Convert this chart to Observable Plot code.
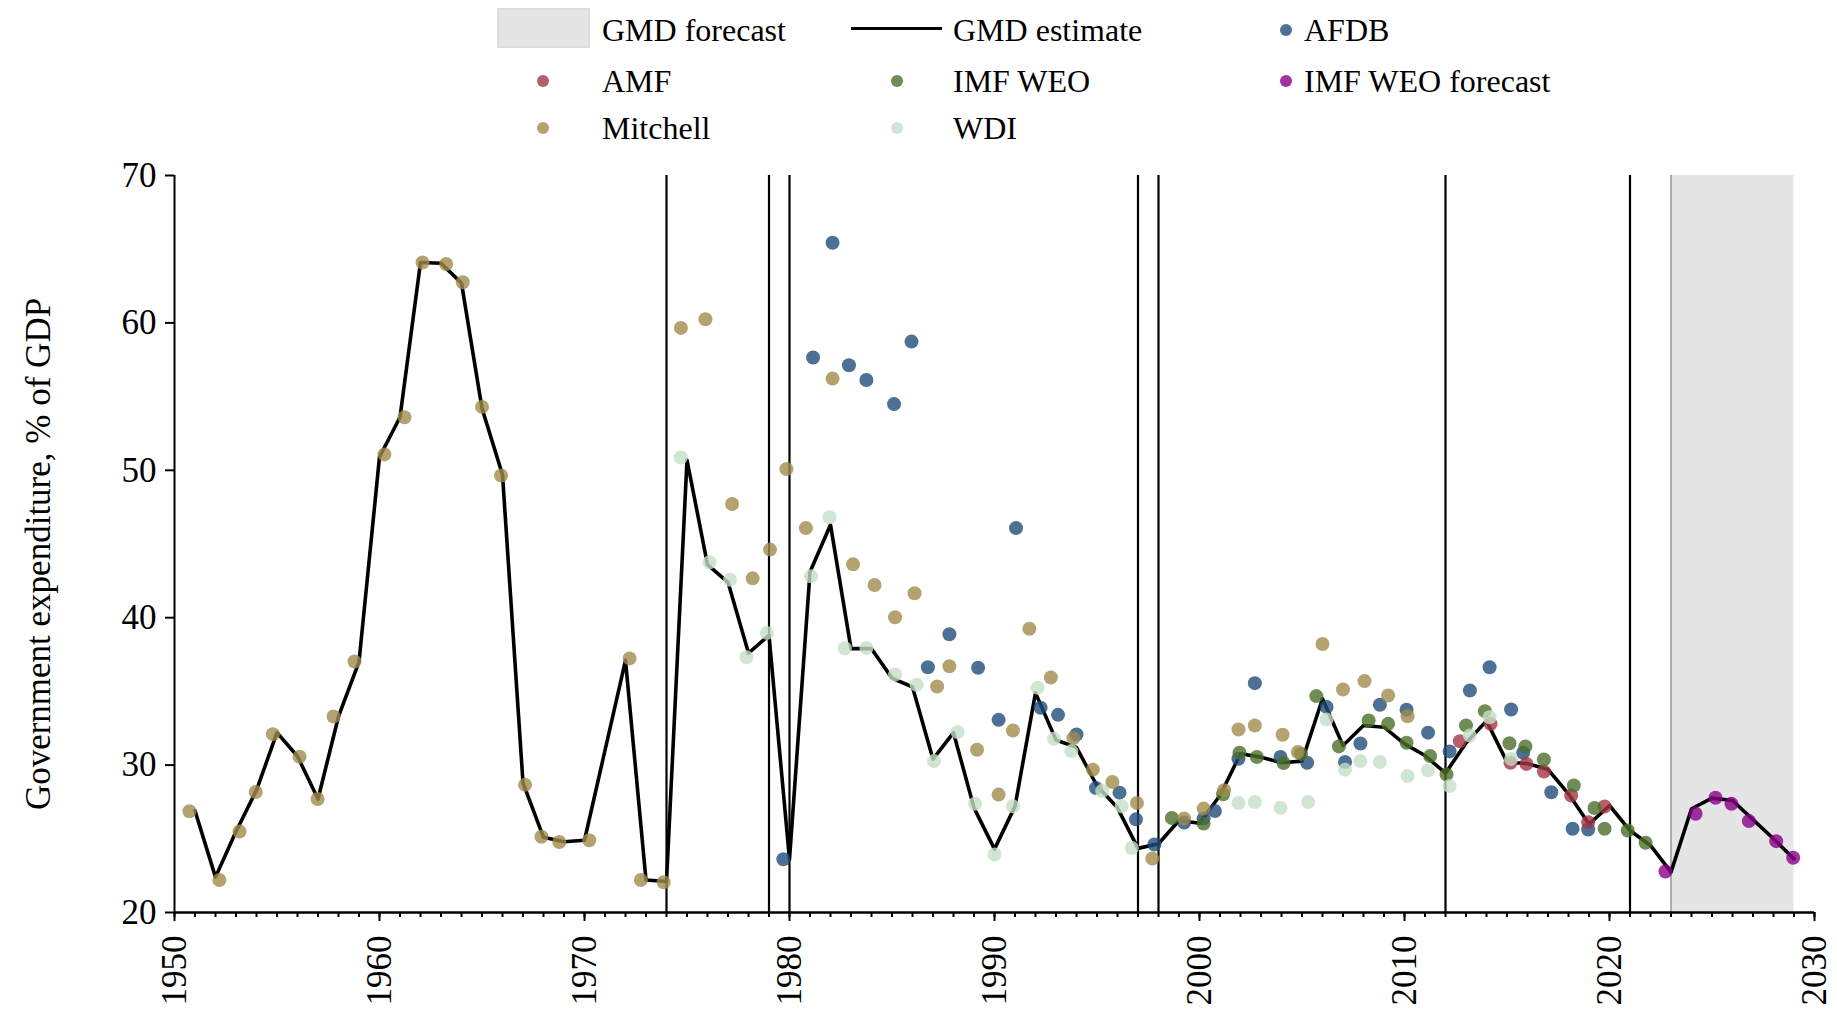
<!DOCTYPE html>
<html>
<head>
<meta charset="utf-8">
<script src="https://cdn.jsdelivr.net/npm/d3@7"></script>
<script src="https://cdn.jsdelivr.net/npm/@observablehq/plot@0.6"></script>
<style>
  body { margin: 0; background: #fff; }
  #wrap { position: relative; width: 1837px; height: 1014px; font-family: "Liberation Serif", "Times New Roman", serif; }
  #legend { position: relative; width: 1837px; height: 150px; }
  .lg-text { position: absolute; font-size: 32px; line-height: 32px; white-space: nowrap; color: #000; }
  .lg-dot { position: absolute; width: 12.6px; height: 12.6px; border-radius: 50%; }
  #chart svg { display: block; }
</style>
</head>
<body>
<div id="wrap">
  <div id="legend"></div>
  <div id="chart"></div>
</div>
<script>
// ---------------- DATA ----------------
const yTitle = "Government expenditure, % of GDP";
const yTicks = [20, 30, 40, 50, 60, 70];
const xTicks = [1950, 1960, 1970, 1980, 1990, 2000, 2010, 2020, 2030];
const breakYears = [1974, 1979, 1980, 1997, 1998, 2012, 2021];
const forecastSpan = [2023, 2029];

const gmdYears = [1951,1952,1953,1954,1955,1956,1957,1958,1959,1960,1961,1962,1963,1964,1965,1966,1967,1968,1969,1970,
  1971,1972,1973,1974,1975,1976,1977,1978,1979,1980,1981,1982,1983,1984,1985,1986,1987,1988,1989,1990,
  1991,1992,1993,1994,1995,1996,1997,1998,1999,2000,2001,2002,2003,2004,2005,2006,2007,2008,2009,2010,
  2011,2012,2013,2014,2015,2016,2017,2018,2019,2020,2021,2022,2023,2024,2025,2026,2027,2028,2029];
const gmdValues = [26.9,22.4,25.5,28.3,32.2,30.6,27.7,33.3,37.0,50.9,53.6,64.1,64.05,62.7,54.2,49.7,28.8,25.1,24.8,24.9,
  31.0,37.1,22.2,22.1,50.7,43.6,42.4,37.6,38.8,23.6,43.1,46.3,37.9,37.9,35.9,35.3,30.4,32.2,27.1,24.3,
  27.2,34.9,31.7,31.2,28.6,27.1,24.35,24.66,26.24,26.06,27.94,30.77,30.54,30.16,30.27,34.5,31.33,32.69,32.57,31.44,
  30.65,29.45,31.5,33.0,30.2,30.1,29.7,28.05,26.0,27.26,25.56,24.55,22.74,27.04,27.76,27.6,26.3,25.0,23.64];

const sources = ["AFDB", "AMF", "IMF WEO", "IMF WEO forecast", "Mitchell", "WDI"];
const sourceColors = ["#1f4e79", "#a13743", "#4c6f2a", "#880088", "#a18c4c", "#c4e0c7"];

const afdbYears = [1979.7,1981.15,1982.1,1982.9,1983.75,1985.1,1985.95,1986.75,1987.8,1989.2,1990.2,1991.05,1992.25,1993.1,1994.0,
  1994.95,1996.1,1996.9,1997.8,1999.25,2000.2,2000.75,2001.9,2002.7,2003.95,2005.25,2006.2,2007.1,2007.85,2008.8,
  2010.1,2011.15,2012.2,2013.19,2014.15,2015.2,2015.79,2017.16,2018.2,2018.96];
const afdbValues = [23.61,57.65,65.44,57.13,56.13,54.49,58.73,36.64,38.88,36.6,33.07,46.08,33.89,33.41,32.08,
  28.44,28.13,26.32,24.61,26.1,26.37,26.89,30.43,35.56,30.55,30.16,33.94,30.21,31.47,34.09,
  33.76,32.2,30.93,35.06,36.64,33.77,30.84,28.16,25.68,25.63];

const amfYears = [2012.7,2014.2,2015.17,2015.95,2016.8,2018.13,2018.96,2019.76];
const amfValues = [31.62,32.8,30.16,30.08,29.57,27.94,26.13,27.19];

const imfYears = [1998.65,2000.2,2001.15,2001.95,2002.8,2004.1,2004.95,2005.7,2006.8,2008.25,2009.2,2010.1,2011.25,2012.05,
  2013.0,2013.92,2015.12,2015.9,2016.8,2018.26,2019.27,2019.76,2020.89,2021.76];
const imfValues = [26.41,26.03,28.02,30.84,30.55,30.14,30.77,34.68,31.27,33.03,32.8,31.52,30.61,29.37,
  32.69,33.66,31.48,31.27,30.38,28.62,27.09,25.68,25.56,24.73];

const imfForecastYears = [2022.73,2024.2,2025.17,2025.95,2026.8,2028.13,2028.96];
const imfForecastValues = [22.78,26.7,27.78,27.37,26.2,24.84,23.71];

const mitchellYears = [1950.73,1952.19,1953.17,1953.96,1954.8,1956.1,1956.98,1957.76,1958.78,1960.24,1961.22,1962.1,1963.25,1964.06,
  1965.0,1965.93,1967.1,1967.9,1968.77,1970.23,1972.2,1972.75,1973.86,1974.7,1975.9,1977.2,1978.2,1979.05,1979.85,1980.8,
  1982.1,1983.1,1984.15,1985.15,1986.1,1987.2,1987.8,1989.15,1990.2,1990.9,1991.7,1992.75,1993.85,1994.8,1995.75,
  1996.95,1997.7,1999.25,2000.2,2001.2,2001.9,2002.7,2004.05,2004.8,2006.0,2007.0,2008.05,2009.2,2010.15];
const mitchellValues = [26.87,22.2,25.5,28.17,32.1,30.57,27.7,33.3,37.03,51.08,53.6,64.1,64.0,62.76,
  54.3,49.65,28.66,25.14,24.78,24.9,37.24,22.2,22.05,59.66,60.25,47.71,42.67,44.62,50.08,46.08,
  56.22,43.62,42.22,40.03,41.66,35.33,36.71,31.04,28.0,32.35,39.25,35.94,31.83,29.69,28.85,
  27.43,23.66,26.37,27.05,28.29,32.42,32.69,32.06,30.89,38.22,35.13,35.7,34.72,33.31];

const wdiYears = [1974.7,1976.1,1977.1,1977.9,1978.9,1981.05,1981.95,1982.7,1983.75,1985.15,1986.2,1987.05,1988.2,1989.05,1990.0,
  1990.9,1992.1,1992.9,1993.75,1995.25,1996.2,1996.7,2001.9,2002.7,2003.95,2005.3,2006.2,2007.1,2007.85,2008.8,
  2010.15,2011.15,2012.2,2013.19,2014.15,2015.2];
const wdiValues = [50.87,43.76,42.58,37.32,38.97,42.81,46.81,37.93,37.95,36.15,35.45,30.28,32.24,27.38,23.93,
  27.2,35.24,31.79,30.95,28.24,27.2,24.38,27.43,27.5,27.11,27.5,33.1,29.69,30.28,30.21,
  29.26,29.64,28.58,32.0,33.25,30.42];

// ---------------- BUILD ----------------
const FONT = '"Liberation Serif", "Times New Roman", serif';
const gmd = gmdYears.map((year, i) => ({year, value: gmdValues[i]}));
const seriesSets = [
  ["AFDB", afdbYears, afdbValues],
  ["AMF", amfYears, amfValues],
  ["IMF WEO", imfYears, imfValues],
  ["IMF WEO forecast", imfForecastYears, imfForecastValues],
  ["Mitchell", mitchellYears, mitchellValues],
  ["WDI", wdiYears, wdiValues]
];
const points = seriesSets.flatMap(([source, ys, vs]) => ys.map((year, i) => ({source, year, value: vs[i]})));

const chart = Plot.plot({
  width: 1837,
  height: 864,
  marginTop: 25,
  marginBottom: 102,
  marginLeft: 174,
  marginRight: 23,
  style: {fontFamily: FONT, background: "white", color: "black"},
  x: {domain: [1950, 2030], label: null},
  y: {domain: [20, 70], label: null},
  color: {domain: sources, range: sourceColors},
  marks: [
    Plot.rect([forecastSpan], {x1: d => d[0], x2: d => d[1], fill: "#e5e5e5"}),
    Plot.ruleX([forecastSpan[0]], {stroke: "#707070", strokeWidth: 1}),
    Plot.ruleX(breakYears, {stroke: "black", strokeWidth: 2.2}),
    Plot.line(gmd, {x: "year", y: "value", stroke: "black", strokeWidth: 3.6}),
    Plot.dot(points, {x: "year", y: "value", fill: "source", fillOpacity: 0.8, r: 7}),
    Plot.ruleX([1950], {stroke: "black", strokeWidth: 2}),
    Plot.ruleY([20], {stroke: "black", strokeWidth: 2.5}),
    Plot.axisY({ticks: yTicks, tickSize: 9, tickPadding: 9, fontSize: 35, strokeWidth: 2, label: null}),
    Plot.axisX({ticks: d3.range(1950, 2031), tickSize: 5, tickFormat: () => "", strokeWidth: 2, label: null}),
    Plot.axisX({ticks: xTicks, tickSize: 9, tickPadding: 14, tickRotate: -90, fontSize: 35,
      tickFormat: d => String(d), strokeWidth: 2, label: null}),
    Plot.text([yTitle], {text: d => d, frameAnchor: "left", textAnchor: "middle", lineAnchor: "middle",
      dx: -136, dy: 10, rotate: -90, fontSize: 35})
  ]
});
document.getElementById("chart").appendChild(chart);

// ---------------- LEGEND ----------------
const legend = document.getElementById("legend");
const colorOf = s => sourceColors[sources.indexOf(s)];
function addText(label, left, cy) {
  const t = document.createElement("div");
  t.className = "lg-text";
  t.textContent = label;
  t.style.left = left + "px";
  t.style.top = (cy - 16) + "px";
  legend.appendChild(t);
}
function addDot(source, cx, cy) {
  const d = document.createElement("div");
  d.className = "lg-dot";
  d.style.left = (cx - 6.3) + "px";
  d.style.top = (cy - 6.3) + "px";
  d.style.background = colorOf(source);
  d.style.opacity = 0.8;
  legend.appendChild(d);
}
// row 1
const sw = document.createElement("div");
Object.assign(sw.style, {position: "absolute", left: "497px", top: "8px", width: "93px", height: "40px",
  background: "#e5e5e5", border: "2px solid #dcdcdc", boxSizing: "border-box"});
legend.appendChild(sw);
addText("GMD forecast", 602, 29.5);
const ln = document.createElement("div");
Object.assign(ln.style, {position: "absolute", left: "851px", top: "26.5px", width: "91px", height: "3px", background: "#000"});
legend.appendChild(ln);
addText("GMD estimate", 953, 29.5);
addDot("AFDB", 1286, 30);
addText("AFDB", 1304, 29.5);
// row 2
addDot("AMF", 543, 81); addText("AMF", 602, 81);
addDot("IMF WEO", 897, 81); addText("IMF WEO", 953, 81);
addDot("IMF WEO forecast", 1286, 81); addText("IMF WEO forecast", 1304, 81);
// row 3
addDot("Mitchell", 543, 128); addText("Mitchell", 602, 128);
addDot("WDI", 897, 128); addText("WDI", 953, 128);
</script>
</body>
</html>
